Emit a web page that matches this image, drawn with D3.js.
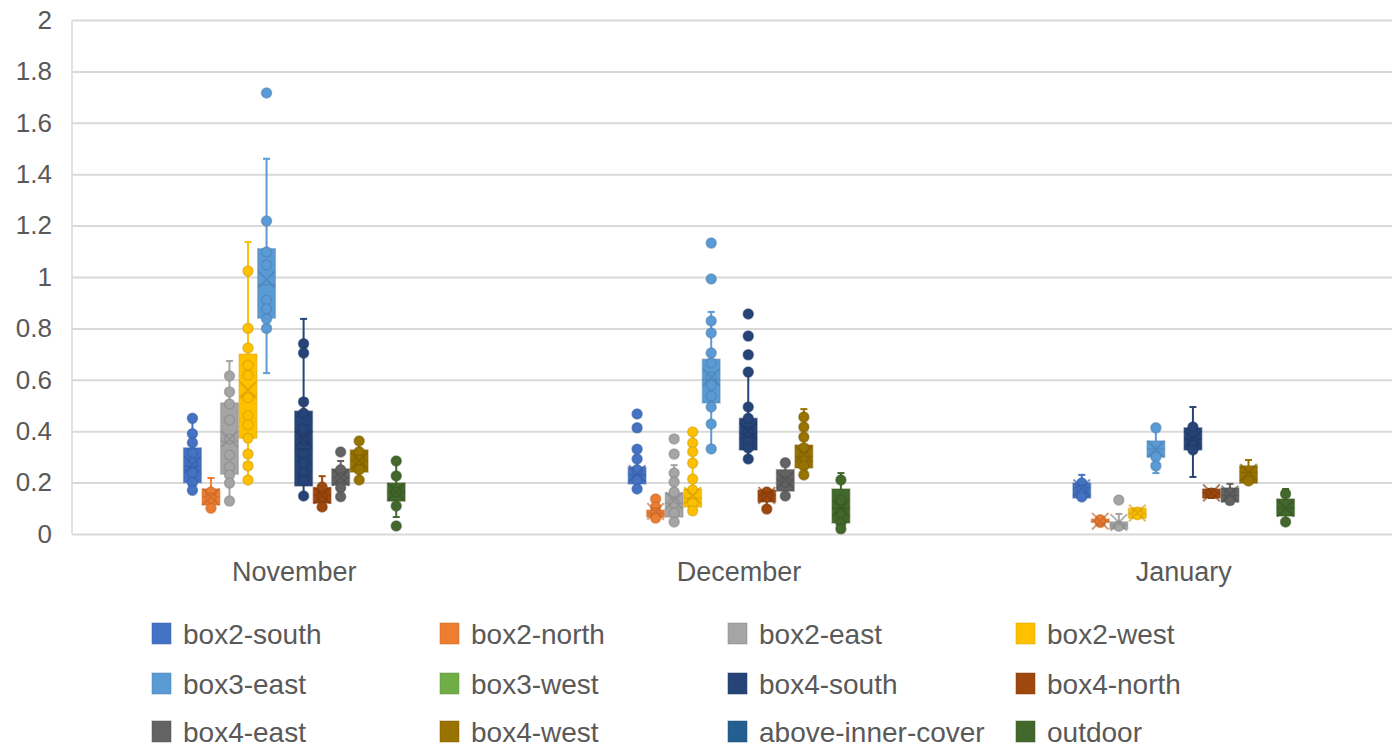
<!DOCTYPE html>
<html><head><meta charset="utf-8">
<script src="https://cdn.jsdelivr.net/npm/d3@7"></script>
<style>
html,body{margin:0;padding:0;background:#fff;}
svg{display:block;}
text{font-family:"Liberation Sans Narrow","Arial Narrow","Liberation Sans",sans-serif;fill:#595959;}
</style></head>
<body><svg id="chart" width="1392" height="748"></svg>
<script>
// ---- data ----
const months = ["November", "December", "January"];
const seriesNames = ["box2-south","box2-north","box2-east","box2-west","box3-east","box3-west",
  "box4-south","box4-north","box4-east","box4-west","above-inner-cover","outdoor"];
const seriesColors = ["#4472C4","#ED7D31","#A5A5A5","#FFC000","#5B9BD5","#70AD47",
  "#264478","#9E480E","#636363","#997300","#255E91","#43682B"];
const yTicks = [0, 0.2, 0.4, 0.6, 0.8, 1, 1.2, 1.4, 1.6, 1.8, 2];

// per month, per series (null = no data)
const q1Vals = [
  [0.200,0.113,0.233,0.373,0.840,null,0.187,0.120,0.190,0.241,null,0.128],
  [0.195,0.066,0.066,0.105,0.510,null,0.327,0.125,0.167,0.257,null,0.043],
  [0.140,0.045,0.020,0.062,0.300,null,0.327,0.140,0.125,0.198,null,0.070]];
const medianVals = [
  [0.265,0.145,0.360,0.540,0.970,null,0.330,0.150,0.220,0.285,null,0.165],
  [0.230,0.080,0.120,0.140,0.600,null,0.390,0.150,0.210,0.300,null,0.100],
  [0.180,0.050,0.035,0.080,0.330,null,0.370,0.160,0.150,0.240,null,0.100]];
const q3Vals = [
  [0.335,0.175,0.510,0.700,1.110,null,0.478,0.180,0.253,0.327,null,0.198],
  [0.260,0.093,0.160,0.175,0.680,null,0.450,0.171,0.250,0.346,null,0.175],
  [0.198,0.058,0.047,0.100,0.362,null,0.413,0.175,0.179,0.265,null,0.136]];
const meanVals = [
  [0.270,0.145,0.370,0.560,0.990,null,0.370,0.150,0.220,0.285,null,0.165],
  [0.235,0.088,0.130,0.150,0.610,null,0.400,0.150,0.210,0.310,null,0.100],
  [0.180,0.050,0.045,0.082,0.330,null,0.370,0.160,0.155,0.240,null,0.100]];
const whiskerLow = [
  [0.170,0.100,0.128,0.210,0.626,null,0.148,0.105,0.145,0.210,null,0.066],
  [0.175,0.062,0.047,0.090,0.331,null,0.292,0.097,0.148,0.230,null,0.020],
  [0.140,0.038,0.020,0.062,0.237,null,0.222,0.140,0.125,0.198,null,0.047]];
const whiskerHigh = [
  [0.450,0.218,0.673,1.136,1.460,null,0.837,0.225,0.284,0.362,null,0.284],
  [0.292,0.136,0.268,0.397,0.864,null,0.630,0.171,0.277,0.486,null,0.237],
  [0.230,0.065,0.078,0.100,0.413,null,0.494,0.175,0.195,0.288,null,0.175]];
const pointVals = [
  [[0.45,0.39,0.355,0.315,0.276,0.237,0.2,0.17],
   [0.163,0.14,0.1],
   [0.615,0.553,0.506,0.444,0.37,0.307,0.26,0.23,0.198,0.128],
   [1.023,0.8,0.724,0.657,0.618,0.53,0.46,0.424,0.373,0.311,0.265,0.21],
   [1.716,1.218,1.097,1.047,0.91,0.876,0.837,0.8],
   [],
   [0.74,0.704,0.514,0.47,0.41,0.366,0.31,0.276,0.241,0.21,0.148],
   [0.183,0.145,0.105],
   [0.319,0.25,0.218,0.18,0.145],
   [0.362,0.32,0.288,0.25,0.21],
   [],
   [0.284,0.226,0.163,0.109,0.031]],
  [[0.467,0.413,0.33,0.292,0.25,0.21,0.175],
   [0.136,0.105,0.082,0.062],
   [0.37,0.311,0.237,0.202,0.163,0.12,0.082,0.047],
   [0.397,0.354,0.32,0.276,0.214,0.171,0.12,0.09],
   [1.132,0.992,0.829,0.782,0.704,0.665,0.611,0.58,0.537,0.494,0.428,0.331],
   [],
   [0.856,0.77,0.697,0.63,0.494,0.45,0.397,0.358,0.335,0.292],
   [0.163,0.144,0.097],
   [0.277,0.202,0.148],
   [0.455,0.416,0.377,0.335,0.3,0.265,0.23],
   [],
   [0.21,0.132,0.082,0.043,0.02]],
  [[0.198,0.171,0.144],
   [0.045,0.05,0.055],
   [0.132,0.03],
   [0.085,0.075],
   [0.413,0.3,0.265],
   [],
   [0.416,0.36,0.327],
   [0.16],
   [0.16,0.13],
   [0.206],
   [],
   [0.156,0.047]]];

// ---- layout ----
const svg = d3.select("#chart");
const plotLeft = 72, plotRight = 1406, plotTop = 20, plotBottom = 534;

const x = d3.scaleBand().domain(months).range([plotLeft, plotRight]).padding(0);
const xs = d3.scaleBand().domain(seriesNames).range([0, x.bandwidth()]).paddingInner(0).paddingOuter(6);
const y = d3.scaleLinear().domain([0, 2]).range([plotBottom, plotTop]);

// gridlines
const gy = svg.append("g").attr("transform", `translate(${plotLeft},0)`)
  .call(d3.axisLeft(y).tickValues(yTicks).tickSize(-(plotRight - plotLeft)).tickPadding(20)
    .tickFormat(d => d3.format("~g")(d)));
gy.select(".domain").remove();
gy.selectAll(".tick line").attr("stroke", "#d9d9d9").attr("stroke-width", 2);
gy.selectAll(".tick text").style("font-size", "26px").attr("fill", "#595959");
svg.append("line").attr("x1", plotLeft).attr("x2", plotLeft).attr("y1", plotTop).attr("y2", plotBottom)
  .attr("stroke", "#d9d9d9").attr("stroke-width", 1.5);

// x axis labels
const gx = svg.append("g").attr("transform", `translate(0,${plotBottom})`)
  .call(d3.axisBottom(x).tickSize(0).tickPadding(28));
gx.select(".domain").remove();
gx.selectAll(".tick text").style("font-size", "27px").attr("fill", "#595959");

// boxes
const bw = xs.bandwidth() * 0.95;
months.forEach((m, mi) => {
  seriesNames.forEach((s, si) => {
    if (q1Vals[mi][si] === null) return;
    const col = seriesColors[si];
    const dark = d3.color(col).darker(0.5).formatHex();
    const cx = x(m) + xs(s) + xs.bandwidth() / 2;
    const g = svg.append("g");
    // whiskers
    g.append("line").attr("x1", cx).attr("x2", cx)
      .attr("y1", y(whiskerLow[mi][si])).attr("y2", y(whiskerHigh[mi][si]))
      .attr("stroke", col).attr("stroke-width", 2);
    [whiskerLow[mi][si], whiskerHigh[mi][si]].forEach(v => {
      g.append("line").attr("x1", cx - 3.5).attr("x2", cx + 3.5).attr("y1", y(v)).attr("y2", y(v))
        .attr("stroke", col).attr("stroke-width", 2);
    });
    // box
    g.append("rect").attr("x", cx - bw / 2).attr("width", bw)
      .attr("y", y(q3Vals[mi][si])).attr("height", Math.max(1, y(q1Vals[mi][si]) - y(q3Vals[mi][si])))
      .attr("fill", col).attr("stroke", dark).attr("stroke-opacity", 0.45).attr("stroke-width", 1.5);
    // median
    g.append("line").attr("x1", cx - bw / 2).attr("x2", cx + bw / 2)
      .attr("y1", y(medianVals[mi][si])).attr("y2", y(medianVals[mi][si]))
      .attr("stroke", dark).attr("stroke-opacity", 0.6).attr("stroke-width", 1.5);
    // points
    g.selectAll("circle.pt").data(pointVals[mi][si]).enter().append("circle")
      .attr("class", "pt").attr("cx", cx).attr("cy", d => y(d)).attr("r", 5)
      .attr("fill", col).attr("stroke", dark).attr("stroke-opacity", 0.6).attr("stroke-width", 1.5);
    // mean X
    const my = y(meanVals[mi][si]), h = bw / 2 - 0.5;
    g.append("path").attr("d", `M${cx - h},${my - h}L${cx + h},${my + h}M${cx - h},${my + h}L${cx + h},${my - h}`)
      .attr("stroke", dark).attr("stroke-opacity", 0.65).attr("stroke-width", 2).attr("fill", "none");
  });
});

// legend
const legCols = [152, 440, 728, 1016], legRows = [634, 684, 732];
seriesNames.forEach((s, i) => {
  const lx = legCols[i % 4], ly = legRows[Math.floor(i / 4)];
  svg.append("rect").attr("x", lx).attr("y", ly - 11).attr("width", 19).attr("height", 21)
    .attr("fill", seriesColors[i]).attr("stroke", d3.color(seriesColors[i]).darker(0.5)).attr("stroke-opacity", 0.5);
  svg.append("text").attr("x", lx + 31).attr("y", ly).attr("dy", "0.35em")
    .style("font-size", "28px").text(s);
});
</script></body></html>
